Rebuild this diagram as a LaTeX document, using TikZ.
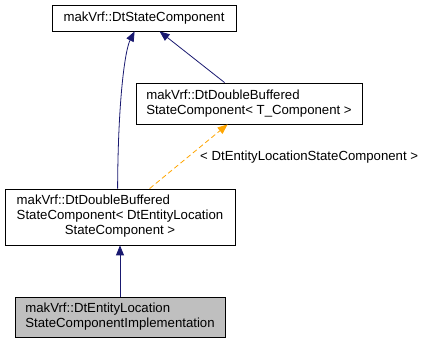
\documentclass[tikz,border=0pt]{standalone}
\usepackage{fontspec}
\setmainfont{Liberation Sans}
\usetikzlibrary{arrows.meta,calc}
\definecolor{navy}{HTML}{191970}
\definecolor{dorange}{HTML}{FFA500}
\definecolor{dgray}{HTML}{BFBFBF}
\begin{document}
\begin{tikzpicture}[x=1pt,y=1pt,
  cls/.style={draw=black, line width=0.8pt, inner xsep=0pt, inner ysep=0pt, align=left,
    font=\fontsize{13.2}{15}\selectfont, anchor=center},
  inh/.style={draw=navy, line width=0.8pt, -{Triangle[length=10pt,width=8pt,fill=navy]}},
  tmpl/.style={draw=dorange, line width=0.8pt, dashed, dash pattern=on 5pt off 3pt, -{Triangle[length=10pt,width=8pt,fill=dorange]}},
  lbl/.style={font=\fontsize{13.2}{15}\selectfont, inner sep=0pt, anchor=west}]
\useasboundingbox (0,0) rectangle (425,344);
\node[cls, minimum width=184pt, minimum height=26pt] (A) at (144,326) {makVrf::DtStateComponent};
\node[cls, minimum width=226pt, minimum height=41pt] (B) at (249,240.5) {makVrf::DtDoubleBuffered\\StateComponent< T\_Component >};
\node[cls, minimum width=230pt, minimum height=56pt] (C) at (120,127) {\begin{tabular}{@{}l@{}}makVrf::DtDoubleBuffered\\StateComponent< DtEntityLocation\\\multicolumn{1}{@{}c@{}}{StateComponent >}\end{tabular}};
\node[cls, fill=dgray, minimum width=210pt, minimum height=40pt] (D) at (120,27) {makVrf::DtEntityLocation\\StateComponentImplementation};
\coordinate (c1) at ($(C.north west)+(113,0)$);
\coordinate (a1) at ($(A.south west)+(83,0)$);
\coordinate (c2) at ($(C.north west)+(145,0)$);
\coordinate (b1) at ($(B.south west)+(92,0)$);
\coordinate (b2) at ($(B.north west)+(89,0)$);
\coordinate (a2) at ($(A.south west)+(108,0)$);
\draw[inh] (D.north) -- (C.south);
\draw[inh] (c1) .. controls (118,244) and (125,294) .. (a1);
\draw[inh] (b2) -- (a2);
\draw[tmpl] (c2) -- (b1);
\node[lbl] (L) at (200,187) {< DtEntityLocationStateComponent >};
\end{tikzpicture}
\end{document}
